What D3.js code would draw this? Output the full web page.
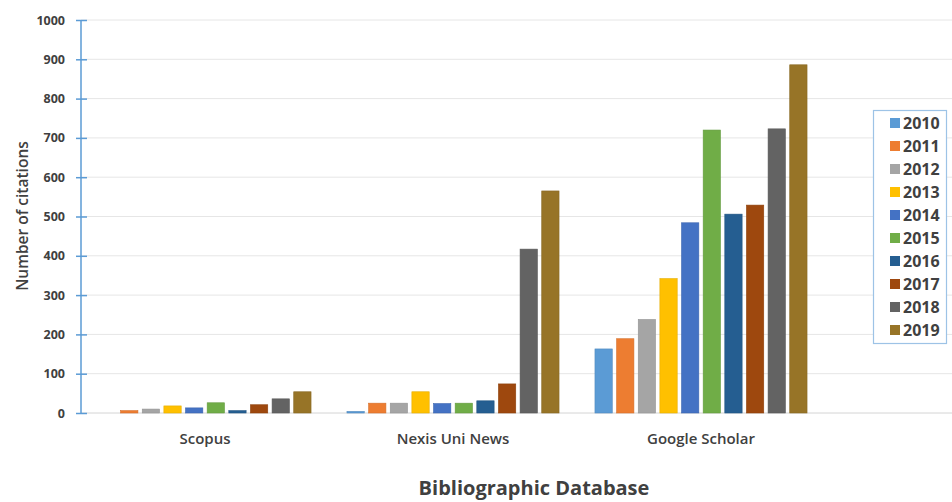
<!DOCTYPE html>
<html><head><meta charset="utf-8">
<script src="https://cdn.jsdelivr.net/npm/d3@7/dist/d3.min.js"></script>
<style>
html,body{margin:0;padding:0;background:#fff;}
svg{display:block;font-family:"Open Sans",sans-serif;}
</style></head>
<body><svg id="chart" width="952" height="502"></svg>
<script>
const categories = ["Scopus", "Nexis Uni News", "Google Scholar"];
const years = ["2010","2011","2012","2013","2014","2015","2016","2017","2018","2019"];
const scopus = [0, 6, 10, 18, 13, 26, 6, 21, 36, 54];
const nexis = [4, 25, 25, 54, 24, 25, 31, 74, 417, 565];
const scholar = [163, 189, 238, 342, 484, 720, 506, 529, 723, 886];
const yTicks = [0,100,200,300,400,500,600,700,800,900,1000];
const colors = ["#5B9BD5","#ED7D31","#A5A5A5","#FFC000","#4472C4","#70AD47","#255E91","#9E480E","#636363","#977427"];

const seriesByCat = [scopus, nexis, scholar];
const data = categories.map((c,i)=>({cat:c, values: years.map((y,j)=>({year:y, value:seriesByCat[i][j]}))}));

const svg = d3.select("#chart");
const mLeft = 81, mRight = 825, mTop = 20, mBottom = 413;

const x0 = d3.scaleBand().domain(categories).range([mLeft, mRight]).padding(0);
const x1 = d3.scaleBand().domain(years).range([0, x0.bandwidth()]).paddingInner(0.2).paddingOuter(0.83);
const y = d3.scaleLinear().domain([0,1000]).range([mBottom, mTop]);
const color = d3.scaleOrdinal().domain(years).range(colors);

// gridlines
svg.append("g").selectAll("line").data(yTicks.filter(d=>d>0)).join("line")
  .attr("x1", mLeft).attr("x2", 952).attr("y1", d=>y(d)).attr("y2", d=>y(d))
  .attr("stroke", "#e6e6e6").attr("stroke-width", 1);

// x baseline
svg.append("line").attr("x1", mLeft).attr("x2", 952).attr("y1", y(0)).attr("y2", y(0))
  .attr("stroke", "#d4d4d4").attr("stroke-width", 1);

// bars
const groups = svg.append("g").selectAll("g").data(data).join("g")
  .attr("transform", d=>`translate(${x0(d.cat)},0)`);
groups.selectAll("rect").data(d=>d.values.filter(v=>v.value>0)).join("rect")
  .attr("x", d=>x1(d.year)).attr("width", x1.bandwidth())
  .attr("y", d=>y(d.value)).attr("height", d=>y(0)-y(d.value))
  .attr("fill", d=>color(d.year))
  .attr("stroke", d=>d3.color(color(d.year)).darker(0.3)).attr("stroke-width", 0.6);

// y axis
const yAxis = d3.axisLeft(y).tickValues(yTicks).tickSize(0).tickPadding(16).tickFormat(d3.format("d"));
const ga = svg.append("g").attr("transform", `translate(${mLeft},0)`).call(yAxis);
ga.select(".domain").attr("stroke", "#5B9BD5").attr("stroke-width", 1.5).attr("d", `M0,${mTop}V${mBottom}`);
ga.selectAll(".tick").append("line").attr("x1", -5).attr("x2", 6).attr("stroke", "#5B9BD5").attr("stroke-width", 1.5);
ga.selectAll(".tick text").attr("fill", "#404040").attr("font-size", 12.5).attr("font-weight", 700)
  .attr("font-family", "'Open Sans',sans-serif");

// x category labels
const xAxis = d3.axisBottom(x0).tickSize(0).tickPadding(20);
const gx = svg.append("g").attr("transform", `translate(0,${mBottom})`).call(xAxis);
gx.select(".domain").remove();
gx.selectAll(".tick text").attr("fill", "#404040").attr("font-size", 15).attr("font-weight", 600)
  .attr("font-family", "'Open Sans',sans-serif");

// axis titles
svg.append("text").attr("transform", "translate(23,216) rotate(-90)").attr("text-anchor", "middle")
  .attr("dy", "0.35em").attr("fill", "#404040").attr("font-size", 15.5).attr("font-weight", 600).text("Number of citations");
svg.append("text").attr("x", 534).attr("y", 495).attr("text-anchor", "middle")
  .attr("fill", "#404040").attr("font-size", 20).attr("font-weight", 700).text("Bibliographic Database");

// legend
const lg = svg.append("g");
lg.append("rect").attr("x", 873.5).attr("y", 110.5).attr("width", 73).attr("height", 233)
  .attr("fill", "#fff").attr("stroke", "#9DC3E6").attr("stroke-width", 1.2);
const items = lg.selectAll("g.item").data(years).join("g").attr("class","item")
  .attr("transform", (d,i)=>`translate(890,${123 + i*23})`);
items.append("rect").attr("x", 0).attr("y", -5).attr("width", 10).attr("height", 10).attr("fill", d=>color(d));
items.append("text").attr("x", 13).attr("y", 0).attr("dy", "0.36em").attr("fill", "#404040")
  .attr("font-size", 16).attr("font-weight", 700).text(d=>d);
</script></body></html>
